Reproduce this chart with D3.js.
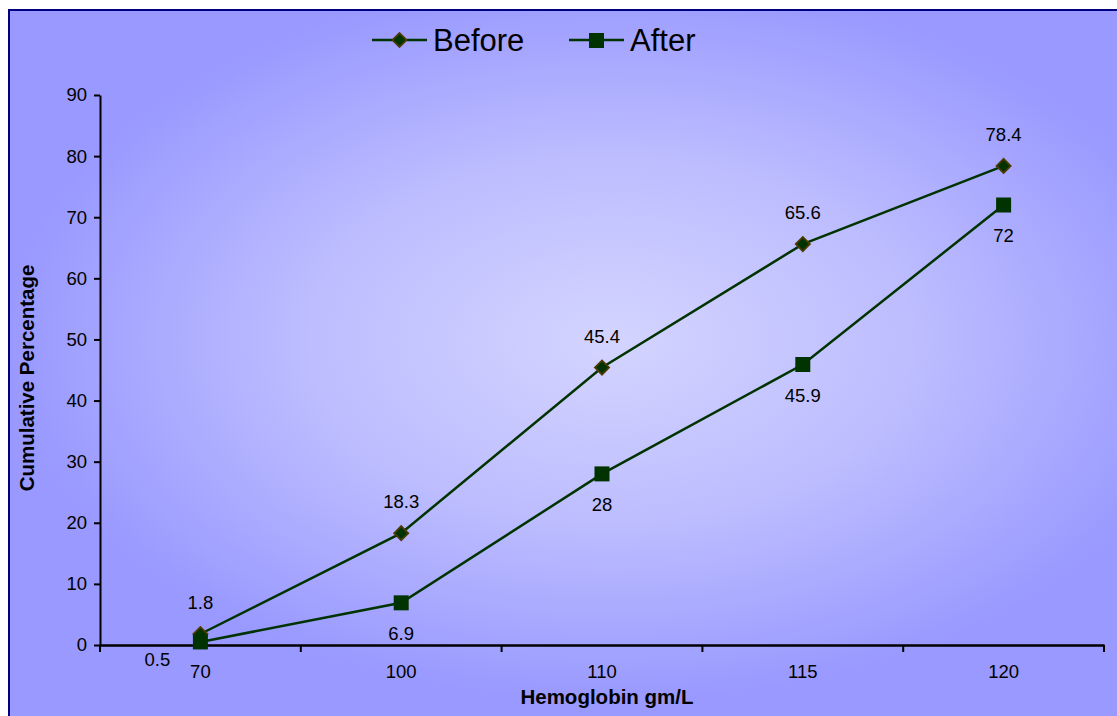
<!DOCTYPE html>
<html><head><meta charset="utf-8">
<script src="https://cdn.jsdelivr.net/npm/d3@7"></script>
<style>body{margin:0;background:#fff}svg{display:block}</style>
</head><body>
<script>
const categories = ["70","100","110","115","120"];
const beforeValues = [1.8, 18.3, 45.4, 65.6, 78.4];
const afterValues = [0.5, 6.9, 28, 45.9, 72];
const yTicks = [0,10,20,30,40,50,60,70,80,90];
const seriesNames = ["Before","After"];

const W = 1117, H = 716;
const svg = d3.select("body").append("svg").attr("width", W).attr("height", H);
const defs = svg.append("defs");
const rg = defs.append("radialGradient").attr("id","bg")
  .attr("gradientUnits","userSpaceOnUse").attr("cx",610).attr("cy",340).attr("r",600)
  .attr("gradientTransform","translate(610,340) scale(1,0.6) translate(-610,-340)");
rg.append("stop").attr("offset","0%").attr("stop-color","#d4d4ff");
rg.append("stop").attr("offset","50%").attr("stop-color","#bdbdff");
rg.append("stop").attr("offset","100%").attr("stop-color","#9999ff");

svg.append("rect").attr("x",9).attr("y",10).attr("width",W+20).attr("height",H+20)
  .attr("fill","url(#bg)").attr("stroke","#000080").attr("stroke-width",2);

const plot = {left:100, right:1104, top:95, bottom:645};
const x = d3.scaleBand().domain(categories).range([plot.left, plot.right]);
const y = d3.scaleLinear().domain([0,90]).range([plot.bottom, plot.top]);

const font = "'Liberation Sans', Arial, sans-serif";
const fs = 18.5;

// y axis
const ya = svg.append("g").attr("transform",`translate(${plot.left},0)`)
  .call(d3.axisLeft(y).tickValues(yTicks).tickSize(6).tickSizeOuter(0).tickPadding(7));
ya.select(".domain").attr("stroke","#000").attr("stroke-width",2);
ya.selectAll(".tick line").attr("stroke","#000").attr("stroke-width",2);
ya.selectAll("text").attr("font-family",font).attr("font-size",fs).attr("fill","#000");

// x axis
const xa = svg.append("g").attr("transform",`translate(0,${plot.bottom})`)
  .call(d3.axisBottom(x).tickSize(0).tickPadding(20));
xa.select(".domain").attr("stroke","#000").attr("stroke-width",2.5);
xa.selectAll("text").attr("font-family",font).attr("font-size",fs).attr("fill","#000");
const bounds = categories.map(c => x(c)).concat([x(categories[categories.length-1]) + x.bandwidth()]);
xa.selectAll(".bt").data(bounds).enter().append("line")
  .attr("x1",d=>d).attr("x2",d=>d).attr("y1",0).attr("y2",7)
  .attr("stroke","#000").attr("stroke-width",2);

// titles
svg.append("text").attr("x",607).attr("y",704).attr("text-anchor","middle")
  .attr("font-family",font).attr("font-weight","bold").attr("font-size",20.5).text("Hemoglobin gm/L");
svg.append("text").attr("transform","translate(34,378) rotate(-90)").attr("text-anchor","middle")
  .attr("font-family",font).attr("font-weight","bold").attr("font-size",20.5).text("Cumulative Percentage");

const cx = c => x(c) + x.bandwidth()/2;
const line = d3.line().x((d,i)=>cx(categories[i])).y(d=>y(d));
const lineColor = "#003300";

svg.append("path").datum(beforeValues).attr("d",line).attr("fill","none").attr("stroke",lineColor).attr("stroke-width",2.5);
svg.append("path").datum(afterValues).attr("d",line).attr("fill","none").attr("stroke",lineColor).attr("stroke-width",2.5);

function drawDiamond(g, px, py){
  g.append("rect").attr("x",-5).attr("y",-5).attr("width",10).attr("height",10)
    .attr("transform",`translate(${px},${py}) rotate(45)`)
    .attr("fill","#003300").attr("stroke","#4d3b00").attr("stroke-width",1.8);
}
beforeValues.forEach((d,i)=>drawDiamond(svg, cx(categories[i]), y(d)));
svg.selectAll(".am").data(afterValues).enter().append("rect")
  .attr("x",(d,i)=>cx(categories[i])-7.5).attr("y",d=>y(d)-7.5).attr("width",15).attr("height",15)
  .attr("fill","#003300");

// labels
svg.selectAll(".bl").data(beforeValues).enter().append("text")
  .attr("x",(d,i)=>cx(categories[i])).attr("y",d=>y(d)-25)
  .attr("text-anchor","middle").attr("font-family",font).attr("font-size",fs).text(d=>d);
svg.selectAll(".al").data(afterValues).enter().append("text")
  .attr("x",(d,i)=> i===0 ? cx(categories[i])-43 : cx(categories[i]))
  .attr("y",(d,i)=> i===0 ? y(d)+24 : y(d)+37)
  .attr("text-anchor","middle").attr("font-family",font).attr("font-size",fs).text(d=>d);

// legend
const lg = svg.append("g");
const items = [{name:seriesNames[0], x0:372, type:"d"},{name:seriesNames[1], x0:569, type:"s"}];
items.forEach(it=>{
  lg.append("line").attr("x1",it.x0).attr("x2",it.x0+55).attr("y1",40).attr("y2",40).attr("stroke",lineColor).attr("stroke-width",2.5);
  if(it.type==="d"){
    drawDiamond(lg, it.x0+27.5, 40);
  } else {
    lg.append("rect").attr("x",it.x0+20).attr("y",33).attr("width",15).attr("height",15).attr("fill","#003300");
  }
  lg.append("text").attr("x",it.x0+61).attr("y",51).attr("font-family",font).attr("font-size",31).text(it.name);
});
</script>
</body></html>
